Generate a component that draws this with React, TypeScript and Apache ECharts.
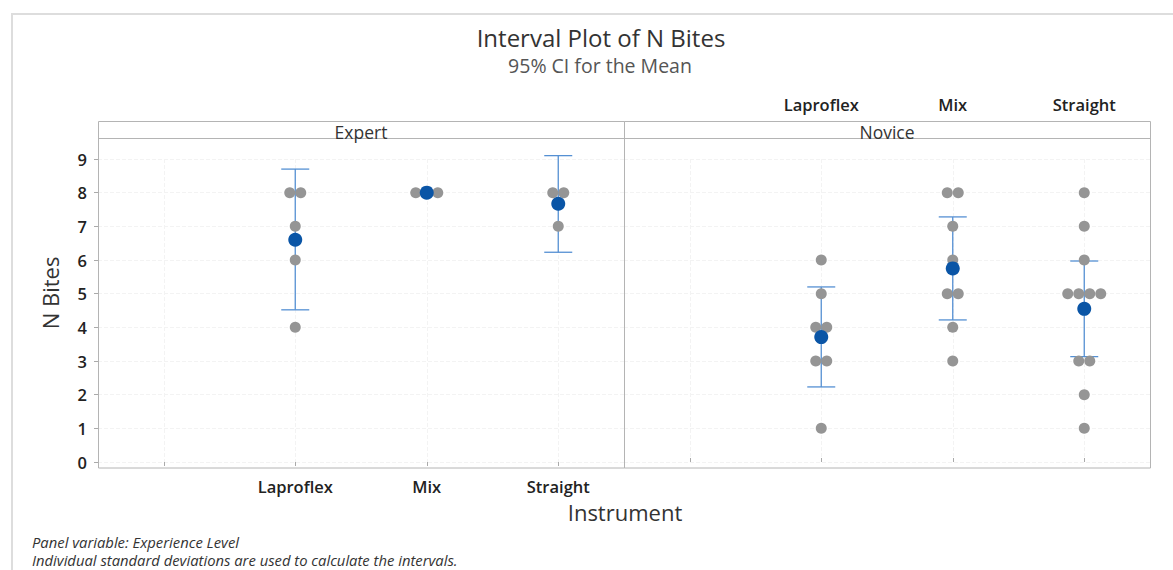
import React, { useEffect, useRef } from "react";
import * as echarts from "echarts";

const categories = ["", "Laproflex", "Mix", "Straight"];

// Individual values per instrument (Expert panel)
const expertLaproflex = [8, 8, 7, 6, 4];
const expertMix = [8, 8, 8];
const expertStraight = [8, 8, 7];
// Individual values per instrument (Novice panel)
const noviceLaproflex = [6, 5, 4, 4, 3, 3, 1];
const noviceMix = [8, 8, 7, 6, 5, 5, 4, 3];
const noviceStraight = [8, 7, 6, 5, 5, 5, 5, 3, 3, 2, 1];

// Means and 95% CI bounds, order: Laproflex, Mix, Straight
const expertMean = [6.6, 8, 7.67];
const expertLower = [4.52, 8, 6.23];
const expertUpper = [8.7, 8, 9.1];
const noviceMean = [3.71, 5.75, 4.55];
const noviceLower = [2.23, 4.22, 3.13];
const noviceUpper = [5.2, 7.28, 5.97];

const yTicks = [0, 1, 2, 3, 4, 5, 6, 7, 8, 9];

const FONT = "'Open Sans', 'Noto Sans', sans-serif";
const DOT_SPACING = 11;

function dotItems(groups: number[][]) {
  const items: number[][] = [];
  groups.forEach((vals, gi) => {
    const cat = gi + 1;
    const counts: Record<string, number> = {};
    vals.forEach((v) => (counts[v] = (counts[v] || 0) + 1));
    const seen: Record<string, number> = {};
    vals.forEach((v) => {
      const n = counts[v];
      const k = seen[v] || 0;
      seen[v] = k + 1;
      items.push([cat, v, k - (n - 1) / 2]);
    });
  });
  return items;
}

function ciItems(lower: number[], upper: number[]) {
  return lower.map((l, i) => [i + 1, l, upper[i]]);
}
function meanItems(mean: number[]) {
  return mean.map((m, i) => [i + 1, m]);
}

const renderDots = (params: any, api: any) => {
  const p = api.coord([api.value(0), api.value(1)]);
  return {
    type: "circle",
    shape: { cx: p[0] + api.value(2) * DOT_SPACING, cy: p[1], r: 5.5 },
    style: { fill: "#959595" },
  };
};

const renderCI = (params: any, api: any) => {
  const i = api.value(0);
  const lo = api.coord([i, api.value(1)]);
  const hi = api.coord([i, api.value(2)]);
  const hw = 14;
  const st = { stroke: "#5590d3", lineWidth: 1.3 };
  return {
    type: "group",
    children: [
      { type: "line", shape: { x1: lo[0], y1: lo[1], x2: hi[0], y2: hi[1] }, style: st },
      { type: "line", shape: { x1: hi[0] - hw, y1: hi[1], x2: hi[0] + hw, y2: hi[1] }, style: st },
      { type: "line", shape: { x1: lo[0] - hw, y1: lo[1], x2: lo[0] + hw, y2: lo[1] }, style: st },
    ],
  };
};

const gridLine = { show: true, lineStyle: { color: "#f3f3f3", type: "dashed", width: 1 } };
const tickLabel = { fontSize: 16.5, fontWeight: 600, color: "#222222", fontFamily: FONT };

const option: any = {
  animation: false,
  backgroundColor: "#ffffff",
  textStyle: { fontFamily: FONT },
  grid: [
    { left: 98, top: 159, width: 526, height: 303 },
    { left: 624, top: 159, width: 526, height: 303 },
  ],
  xAxis: [
    {
      type: "category",
      gridIndex: 0,
      data: categories,
      position: "bottom",
      offset: 6,
      boundaryGap: true,
      axisLine: { show: false },
      axisTick: { show: true, alignWithLabel: true, length: 4, lineStyle: { color: "#aaaaaa" } },
      axisLabel: { margin: 10, ...tickLabel },
      splitLine: { ...gridLine, alignWithLabel: true },
    },
    {
      type: "category",
      gridIndex: 1,
      data: categories,
      position: "top",
      offset: 38,
      boundaryGap: true,
      axisLine: { show: false },
      axisTick: { show: true, alignWithLabel: true, length: 4, lineStyle: { color: "#aaaaaa" } },
      axisLabel: { margin: 8, ...tickLabel },
      splitLine: { ...gridLine, alignWithLabel: true },
    },
  ],
  yAxis: [
    {
      type: "value",
      gridIndex: 0,
      min: yTicks[0],
      max: yTicks[yTicks.length - 1],
      interval: 1,
      axisLine: { show: false },
      axisTick: { show: true, length: 4, lineStyle: { color: "#aaaaaa" } },
      axisLabel: { margin: 11, ...tickLabel },
      splitLine: gridLine,
    },
    {
      type: "value",
      gridIndex: 1,
      min: yTicks[0],
      max: yTicks[yTicks.length - 1],
      interval: 1,
      axisLine: { show: false },
      axisTick: { show: false },
      axisLabel: { show: false },
      splitLine: gridLine,
    },
  ],
  series: [
    {
      type: "custom",
      xAxisIndex: 0,
      yAxisIndex: 0,
      renderItem: renderCI,
      data: ciItems(expertLower, expertUpper),
      z: 3,
      clip: false,
    },
    {
      type: "custom",
      xAxisIndex: 1,
      yAxisIndex: 1,
      renderItem: renderCI,
      data: ciItems(noviceLower, noviceUpper),
      z: 3,
      clip: false,
    },
    {
      type: "custom",
      xAxisIndex: 0,
      yAxisIndex: 0,
      renderItem: renderDots,
      data: dotItems([expertLaproflex, expertMix, expertStraight]),
      z: 4,
      clip: false,
    },
    {
      type: "custom",
      xAxisIndex: 1,
      yAxisIndex: 1,
      renderItem: renderDots,
      data: dotItems([noviceLaproflex, noviceMix, noviceStraight]),
      z: 4,
      clip: false,
    },
    {
      type: "scatter",
      xAxisIndex: 0,
      yAxisIndex: 0,
      symbolSize: 14,
      itemStyle: { color: "#0a55a6", opacity: 1 },
      data: meanItems(expertMean),
      z: 5,
    },
    {
      type: "scatter",
      xAxisIndex: 1,
      yAxisIndex: 1,
      symbolSize: 14,
      itemStyle: { color: "#0a55a6", opacity: 1 },
      data: meanItems(noviceMean),
      z: 5,
    },
  ],
  graphic: [
    {
      type: "rect",
      shape: { x: 12, y: 14, width: 1180, height: 600 },
      style: { fill: "none", stroke: "#dddddd", lineWidth: 2 },
      z: 0,
      silent: true,
    },
    {
      type: "rect",
      shape: { x: 98.5, y: 121.5, width: 526, height: 346.5 },
      style: { fill: "none", stroke: "#b4b4b4", lineWidth: 1 },
      z: 10,
      silent: true,
    },
    {
      type: "rect",
      shape: { x: 624.5, y: 121.5, width: 526, height: 346.5 },
      style: { fill: "none", stroke: "#b4b4b4", lineWidth: 1 },
      z: 10,
      silent: true,
    },
    {
      type: "line",
      shape: { x1: 98.5, y1: 138.5, x2: 1150.5, y2: 138.5 },
      style: { stroke: "#b4b4b4", lineWidth: 1 },
      z: 10,
      silent: true,
    },
    {
      type: "text",
      x: 361,
      y: 132,
      style: { text: "Expert", fontSize: 17.5, fontFamily: FONT, fill: "#333333", align: "center", verticalAlign: "middle" },
      z: 11,
    },
    {
      type: "text",
      x: 887,
      y: 132,
      style: { text: "Novice", fontSize: 17.5, fontFamily: FONT, fill: "#333333", align: "center", verticalAlign: "middle" },
      z: 11,
    },
    {
      type: "text",
      x: 601,
      y: 37,
      style: { text: "Interval Plot of N Bites", fontSize: 24, lineHeight: 26, fontFamily: FONT, fill: "#333333", align: "center", verticalAlign: "middle" },
    },
    {
      type: "text",
      x: 600,
      y: 65,
      style: { text: "95% CI for the Mean", fontSize: 19.5, lineHeight: 21, fontFamily: FONT, fill: "#555555", align: "center", verticalAlign: "middle" },
    },
    {
      type: "text",
      x: 625,
      y: 512,
      style: { text: "Instrument", fontSize: 22, fontFamily: FONT, fill: "#333333", align: "center", verticalAlign: "middle" },
    },
    {
      type: "text",
      x: 50,
      y: 293,
      rotation: Math.PI / 2,
      style: { text: "N Bites", fontSize: 22, fontFamily: FONT, fill: "#333333", align: "center", verticalAlign: "middle" },
    },
    {
      type: "text",
      x: 32,
      y: 542,
      style: { text: "Panel variable: Experience Level", fontSize: 14.8, fontStyle: "italic", fontFamily: FONT, fill: "#333333", align: "left", verticalAlign: "middle" },
    },
    {
      type: "text",
      x: 32,
      y: 560,
      style: { text: "Individual standard deviations are used to calculate the intervals.", fontSize: 14.8, fontStyle: "italic", fontFamily: FONT, fill: "#333333", align: "left", verticalAlign: "middle" },
    },
  ],
};

export default function App() {
  const ref = useRef<HTMLDivElement>(null);
  useEffect(() => {
    document.body.style.margin = "0";
    const chart = echarts.init(ref.current as HTMLDivElement, null, { renderer: "svg" });
    chart.setOption(option);
    return () => chart.dispose();
  }, []);
  return <div ref={ref} style={{ width: 1173, height: 570 }} />;
}
